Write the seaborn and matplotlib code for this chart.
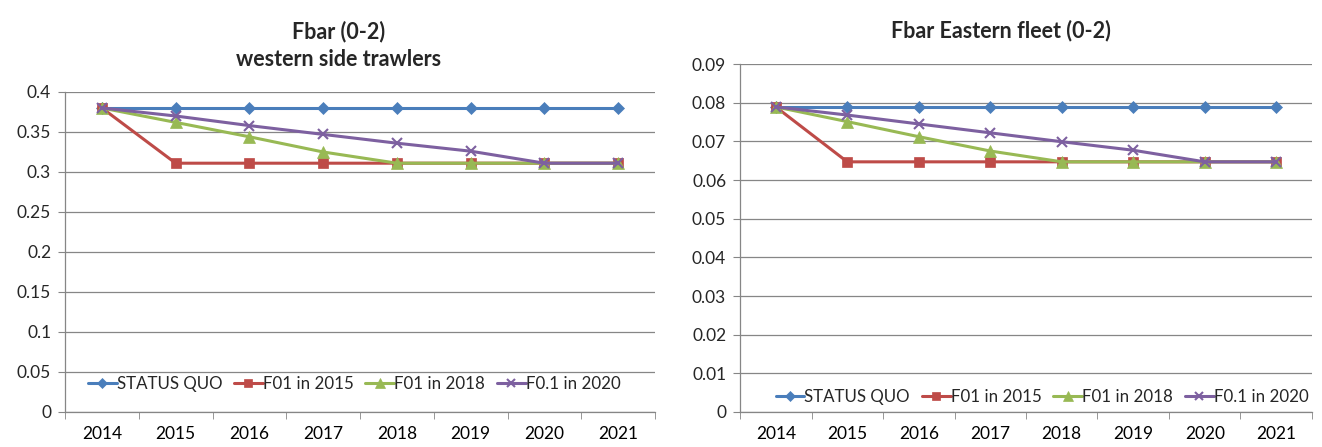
import numpy as np
import pandas as pd
import matplotlib
matplotlib.use("Agg")
import matplotlib.pyplot as plt
import seaborn as sns
from matplotlib.ticker import MultipleLocator, FixedLocator, NullFormatter

years = [2014, 2015, 2016, 2017, 2018, 2019, 2020, 2021]
series_names = ["STATUS QUO", "F01 in 2015", "F01 in 2018", "F0.1 in 2020"]

west_status_quo = [0.380, 0.380, 0.380, 0.380, 0.380, 0.380, 0.380, 0.380]
west_f01_2015 = [0.380, 0.311, 0.311, 0.311, 0.311, 0.311, 0.311, 0.311]
west_f01_2018 = [0.380, 0.362, 0.344, 0.325, 0.311, 0.311, 0.311, 0.311]
west_f01_2020 = [0.380, 0.370, 0.358, 0.347, 0.336, 0.326, 0.311, 0.311]

east_status_quo = [0.0789, 0.0789, 0.0789, 0.0789, 0.0789, 0.0789, 0.0789, 0.0789]
east_f01_2015 = [0.0789, 0.0647, 0.0647, 0.0647, 0.0647, 0.0647, 0.0647, 0.0647]
east_f01_2018 = [0.0789, 0.0751, 0.0712, 0.0675, 0.0647, 0.0647, 0.0647, 0.0647]
east_f01_2020 = [0.0789, 0.0768, 0.0745, 0.0722, 0.0699, 0.0677, 0.0647, 0.0647]

titles = ["Fbar (0-2)\nwestern side trawlers", "Fbar Eastern fleet (0-2)"]

colors = ["#4A7EBB", "#BE4B48", "#98B954", "#7D60A0"]
markers = ["D", "s", "^", "x"]
msizes = [6.5, 7.5, 8, 7]


def long_df(vals):
    rows = []
    for name, v in zip(series_names, vals):
        for y, val in zip(years, v):
            rows.append({"year": y, "value": val, "series": name})
    return pd.DataFrame(rows)


sns.set_style("white")
plt.rcParams["font.family"] = ["Lato", "DejaVu Sans"]

fig = plt.figure(figsize=(13.22, 4.47), dpi=100)
ax1 = fig.add_axes([0.0492, 0.0783, 0.4463, 0.7159])
ax2 = fig.add_axes([0.5598, 0.0783, 0.4326, 0.7785])

panels = [
    (ax1, [west_status_quo, west_f01_2015, west_f01_2018, west_f01_2020], 0.4, 0.05, (0.49, 0.0875), 0.464, 18.5),
    (ax2, [east_status_quo, east_f01_2015, east_f01_2018, east_f01_2020], 0.09, 0.01, (0.528, 0.043), 0.456, 19),
]

grid_col = "#868686"
for i, (ax, vals, ymax, step, legpos, tx, tpad) in enumerate(panels):
    df = long_df(vals)
    for name, col, mk, ms in zip(series_names, colors, markers, msizes):
        sub = df[df["series"] == name]
        sns.lineplot(data=sub, x="year", y="value", ax=ax, color=col, marker=mk,
                     markersize=ms, linewidth=2.2, label=name,
                     markeredgecolor=col, markeredgewidth=1.5 if mk == "x" else 0.5)
    ax.set_xlim(years[0] - 0.5, years[-1] + 0.5)
    ax.set_ylim(0, ymax)
    ax.yaxis.set_major_locator(MultipleLocator(step))
    ax.yaxis.set_major_formatter(matplotlib.ticker.FuncFormatter(lambda v, p: f"{v:g}" if abs(v) > 1e-12 else "0"))
    ax.set_xticks(years)
    ax.set_xticklabels([str(y) for y in years])
    ax.xaxis.set_minor_locator(FixedLocator([y - 0.5 for y in years] + [years[-1] + 0.5]))
    ax.xaxis.set_minor_formatter(NullFormatter())
    ax.tick_params(axis="x", which="major", length=0, labelsize=12.5, pad=10, colors="black")
    ax.tick_params(axis="x", which="minor", length=5, color=grid_col, direction="out", bottom=True)
    ax.tick_params(axis="y", which="major", length=5, color=grid_col, direction="out", labelsize=12.5, left=True, pad=5)
    ax.grid(axis="y", color=grid_col, linewidth=0.9)
    ax.grid(axis="x", visible=False)
    for s in ["top", "right"]:
        ax.spines[s].set_visible(False)
    for s in ["left", "bottom"]:
        ax.spines[s].set_color(grid_col)
        ax.spines[s].set_linewidth(0.9)
    ax.set_xlabel("")
    ax.set_ylabel("")
    ax.set_title(titles[i], fontsize=15.5, fontweight="bold", pad=tpad, linespacing=1.4, x=tx)
    ax.legend(loc="center", bbox_to_anchor=legpos, ncol=4, frameon=False, fontsize=12.2,
              handlelength=1.7, handletextpad=0.0, columnspacing=0.7, borderaxespad=0,
              markerscale=0.85)
    ax.set_axisbelow(True)

fig.savefig("out.png", dpi=100)
